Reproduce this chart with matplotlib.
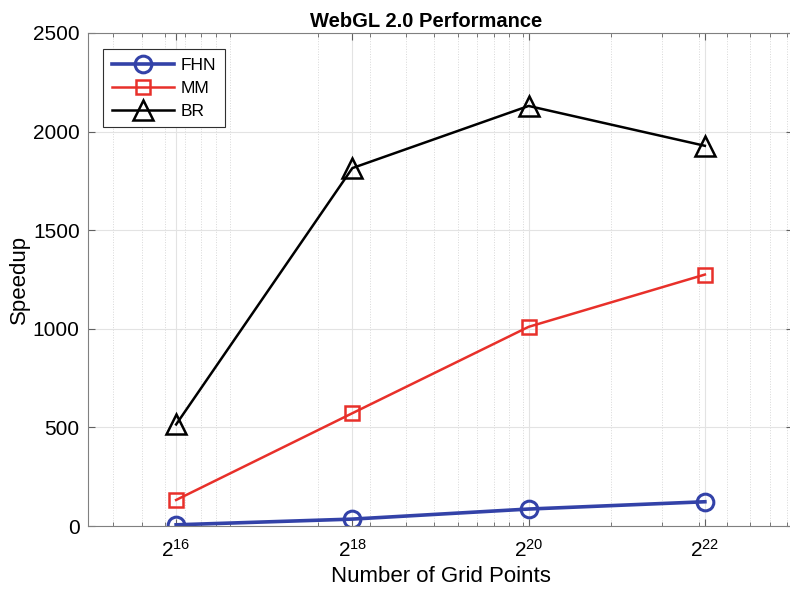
import numpy as np
import matplotlib
matplotlib.use("Agg")
import matplotlib.pyplot as plt
from matplotlib.ticker import FixedLocator, LogLocator, NullFormatter

plt.rcParams['font.family'] = ['Liberation Sans', 'DejaVu Sans']
plt.rcParams['mathtext.fontset'] = 'custom'
plt.rcParams['mathtext.rm'] = 'Liberation Sans'
plt.rcParams['mathtext.it'] = 'Liberation Sans'

# datos
exponentes = [16, 18, 20, 22]
puntos = [2 ** e for e in exponentes]
fhn = [6, 35, 86, 123]
mm = [132, 572, 1010, 1275]
br = [515, 1815, 2130, 1928]
etiquetas_x = ['$2^{%d}$' % e for e in exponentes]

# el eje derecho queda fuera de la imagen, igual que en la figura original
fig = plt.figure(figsize=(7.9, 5.92), dpi=100)
ax = fig.add_axes([88 / 790, 66 / 592, 705 / 790, 493 / 592])

ax.plot(puntos, fhn, color='#3342a8', lw=2.6, marker='o', ms=12, mfc='none', mew=2.2, label='FHN')
ax.plot(puntos, mm, color='#e8302a', lw=1.8, marker='s', ms=10, mfc='none', mew=1.8, label='MM')
ax.plot(puntos, br, color='black', lw=1.8, marker='^', ms=15, mfc='none', mew=1.8, label='BR')

ax.set_xscale('log', base=2)
ax.set_xlim(2 ** 15, 2 ** 23)
ax.set_ylim(0, 2500)
ax.xaxis.set_major_locator(FixedLocator(puntos))
ax.set_xticklabels(etiquetas_x)
ax.xaxis.set_minor_locator(LogLocator(base=10.0, subs=np.arange(1, 10), numticks=30))
ax.xaxis.set_minor_formatter(NullFormatter())
ax.set_yticks([0, 500, 1000, 1500, 2000, 2500])

ax.grid(True, which='major', color='#e3e3e3', lw=0.8)
ax.grid(True, which='minor', axis='x', color='#d8d8d8', lw=0.7, ls=':')
ax.set_axisbelow(True)

ax.tick_params(which='both', direction='in', top=True, right=True, colors='#606060', labelcolor='black', labelsize=15)
ax.tick_params(which='major', length=5)
ax.tick_params(which='minor', length=3)
ax.tick_params(axis='x', pad=9)
ax.tick_params(axis='y', pad=6)
for s in ax.spines.values():
    s.set_color('#808080')

ax.set_title('WebGL 2.0 Performance', fontsize=14.5, fontweight='bold', pad=4, x=0.48)
ax.set_xlabel('Number of Grid Points', fontsize=16, labelpad=4)
ax.set_ylabel('Speedup', fontsize=16, labelpad=2)

leg = ax.legend(loc='upper left', bbox_to_anchor=(15 / 705, 1 - 16 / 493), borderaxespad=0,
                fontsize=12.5, handlelength=3.6, handletextpad=0.4,
                fancybox=False, edgecolor='#303030', framealpha=1, borderpad=0.5, labelspacing=0.45)
leg.get_frame().set_linewidth(0.8)

fig.savefig('out.png', dpi=100)
